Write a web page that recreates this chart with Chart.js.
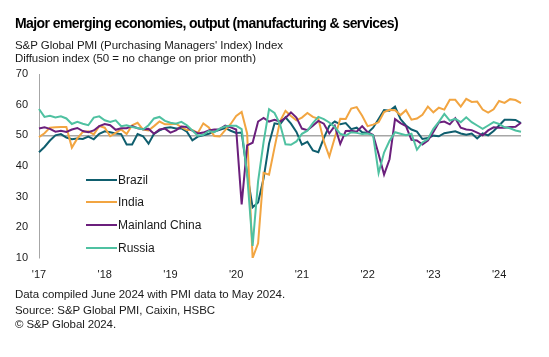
<!DOCTYPE html>
<html><head><meta charset="utf-8">
<script src="https://cdn.jsdelivr.net/npm/chart.js@4.4.1/dist/chart.umd.min.js"></script>
<style>
html,body{margin:0;padding:0;background:#fff;}
#wrap{position:relative;width:549px;height:357px;overflow:hidden;font-family:"Liberation Sans",Arial,sans-serif;color:#1a1a1a;}
#c{position:absolute;left:0;top:0;}
.t{position:absolute;left:15px;white-space:nowrap;line-height:1;}
#title{font-weight:bold;font-size:14px;color:#000;}
.s{font-size:11.5px;}
.lg{position:absolute;left:86px;height:0;}
.lg i{position:absolute;left:0;top:-1px;width:31px;height:2px;}
.lg span{position:absolute;left:32px;top:-7px;font-size:12px;line-height:14px;white-space:nowrap;color:#1a1a1a;}
</style></head>
<body>
<div id="wrap">
<canvas id="c" width="549" height="357"></canvas>
<div class="t" id="title" data-w="383" style="top:16px">Major emerging economies, output (manufacturing &amp; services)</div>
<div class="t s" data-w="268" style="top:40px">S&amp;P Global PMI (Purchasing Managers' Index) Index</div>
<div class="t s" data-w="241" style="top:53px">Diffusion index (50 = no change on prior month)</div>
<div class="t s" data-w="270" style="top:289px">Data compiled June 2024 with PMI data to May 2024.</div>
<div class="t s" data-w="200" style="top:305px">Source: S&amp;P Global PMI, Caixin, HSBC</div>
<div class="t s" data-w="101" style="top:319px">© S&amp;P Global 2024.</div>
<div id="legend"></div>
</div>
<script>
// ---- data ----
const seriesNames = ["Brazil", "India", "Mainland China", "Russia"];
const seriesColors = ["#0f5e6e", "#f2a541", "#6b1f7c", "#4fc1a1"];
const xTickLabels = ["'17", "'18", "'19", "'20", "'21", "'22", "'23", "'24"];
const yTicks = [10, 20, 30, 40, 50, 60, 70];

const brazil = [
 44.5,46.2,48.3,50.0,50.4,49.3,48.7,49.0,48.8,49.6,48.7,50.5,
 51.3,51.0,50.6,50.4,47.0,47.0,50.4,49.7,47.3,50.5,51.6,52.4,
 52.6,52.2,52.3,51.2,48.4,49.6,50.0,50.5,51.2,51.8,52.4,51.5,
 50.8,50.9,37.6,26.5,28.1,35.9,47.3,53.9,53.6,55.9,53.8,51.1,
 47.0,47.9,45.1,44.5,49.1,53.1,54.5,53.6,54.0,52.0,52.5,51.0,
 50.8,52.5,55.3,58.2,58.0,59.4,55.3,53.2,51.9,51.2,48.8,49.1,
 49.9,49.7,50.7,51.0,51.3,50.6,50.2,50.6,49.0,50.6,50.0,51.4,
 53.2,55.1,55.1,55.0,54.0];
const india = [
 49.4,50.7,52.5,52.6,52.7,52.7,46.0,49.0,51.1,51.3,50.3,53.0,
 52.5,49.7,50.8,51.9,50.4,53.3,54.1,51.9,51.6,53.0,54.5,53.6,
 53.6,53.8,52.7,51.7,51.7,50.8,53.9,52.6,49.8,49.6,51.7,53.7,
 56.3,57.6,50.6,10.0,14.8,37.8,37.2,46.0,54.6,58.0,56.3,54.9,
 55.8,57.3,56.0,55.4,48.1,43.1,49.2,55.4,55.3,58.7,59.2,56.4,
 53.0,53.5,54.3,57.6,58.3,58.2,56.6,58.2,55.1,55.5,56.7,59.4,
 57.5,59.0,58.4,61.6,61.6,59.4,61.9,60.9,61.0,58.4,57.4,58.5,
 61.2,60.6,61.8,61.5,60.5];
const china = [
 52.2,52.6,52.1,51.2,51.5,51.1,51.9,52.4,51.4,51.0,51.6,53.0,
 53.7,53.3,51.8,52.3,52.3,53.0,52.3,52.0,52.1,50.5,51.9,52.2,
 50.9,51.6,52.9,52.7,51.5,50.6,50.9,51.6,51.9,52.0,53.2,52.6,
 51.9,27.5,46.7,47.6,54.5,55.7,54.5,55.1,54.5,55.7,57.5,55.8,
 52.2,51.7,53.1,54.7,53.8,50.6,53.1,47.2,51.4,51.5,51.2,53.0,
 51.0,50.1,43.9,37.2,42.2,55.3,54.0,53.0,48.5,48.3,47.0,48.3,
 51.1,54.2,54.5,53.6,55.6,52.5,51.9,51.7,50.9,50.0,51.6,52.6,
 52.5,52.5,52.7,52.8,54.1];
const russia = [
 58.6,56.0,56.4,55.8,56.2,55.5,53.7,54.4,53.8,53.3,55.8,56.2,
 54.9,54.4,54.9,53.0,53.3,52.7,52.4,51.9,53.3,55.5,56.0,54.7,
 54.1,53.8,54.4,53.3,51.6,49.9,50.2,51.4,51.0,52.2,52.9,53.1,
 53.1,52.0,37.2,13.9,35.0,47.8,58.5,57.3,53.7,47.1,46.9,48.0,
 50.5,51.5,54.0,56.0,55.3,54.2,52.7,50.5,49.9,51.0,50.8,50.4,
 50.6,50.0,37.7,44.4,48.2,51.0,50.5,50.0,50.5,45.3,47.7,48.8,
 52.1,54.4,57.0,54.8,55.4,54.3,55.9,54.3,53.2,52.1,53.2,54.3,
 53.7,52.6,52.3,51.6,51.2];

// month categories Jan 2017 .. May 2024
const months = [];
for (let y = 2017; y <= 2024; y++) {
  for (let m = 1; m <= 12; m++) {
    if (y === 2024 && m > 5) break;
    months.push(y + "-" + String(m).padStart(2, "0"));
  }
}

const allSeries = [brazil, india, china, russia];

// ---- text fitting ----
document.querySelectorAll('.t').forEach(el => {
  const target = +el.dataset.w;
  const w = el.getBoundingClientRect().width;
  const n = el.textContent.length;
  el.style.letterSpacing = ((target - w) / n).toFixed(3) + 'px';
});

// ---- legend (HTML) ----
const legendY = [180, 202, 225, 248];
const lg = document.getElementById('legend');
seriesNames.forEach((name, k) => {
  const d = document.createElement('div');
  d.className = 'lg';
  d.style.top = legendY[k] + 'px';
  d.innerHTML = '<i style="background:' + seriesColors[k] + '"></i><span>' + name + '</span>';
  lg.appendChild(d);
});

// ---- chart ----
const FONT = '"Liberation Sans", Arial, sans-serif';
new Chart(document.getElementById('c'), {
  type: 'line',
  data: {
    labels: months,
    datasets: seriesNames.map((name, k) => ({
      label: name,
      data: allSeries[k],
      borderColor: seriesColors[k],
      backgroundColor: seriesColors[k],
      borderWidth: 2,
      pointRadius: 0,
      tension: 0,
      order: 4 - k
    }))
  },
  options: {
    responsive: false,
    animation: false,
    devicePixelRatio: 1,
    layout: { padding: { left: 11, top: 74, right: 28, bottom: 75 } },
    plugins: { legend: { display: false }, tooltip: { enabled: false }, title: { display: false } },
    scales: {
      x: {
        type: 'category',
        offset: false,
        grid: { display: false, drawTicks: false },
        border: { display: false },
        ticks: {
          autoSkip: false, maxRotation: 0, minRotation: 0, padding: 10,
          color: '#1a1a1a', font: { family: FONT, size: 11 },
          callback: (v, i) => (i % 12 === 0 ? xTickLabels[i / 12] : '')
        },
        afterFit: a => { a.height = 24; }
      },
      y: {
        min: yTicks[0], max: yTicks[yTicks.length - 1],
        afterBuildTicks: a => { a.ticks = yTicks.map(v => ({ value: v })); },
        grid: {
          drawTicks: false,
          color: c => (c.tick && c.tick.value === 50 ? '#a6a6a6' : 'rgba(0,0,0,0)'),
          lineWidth: 1.5
        },
        border: { display: true, color: '#a6a6a6', width: 1 },
        ticks: { padding: 11, color: '#1a1a1a', font: { family: FONT, size: 11 } },
        afterFit: a => { a.width = 28; }
      }
    }
  }
});
</script>
</body></html>
